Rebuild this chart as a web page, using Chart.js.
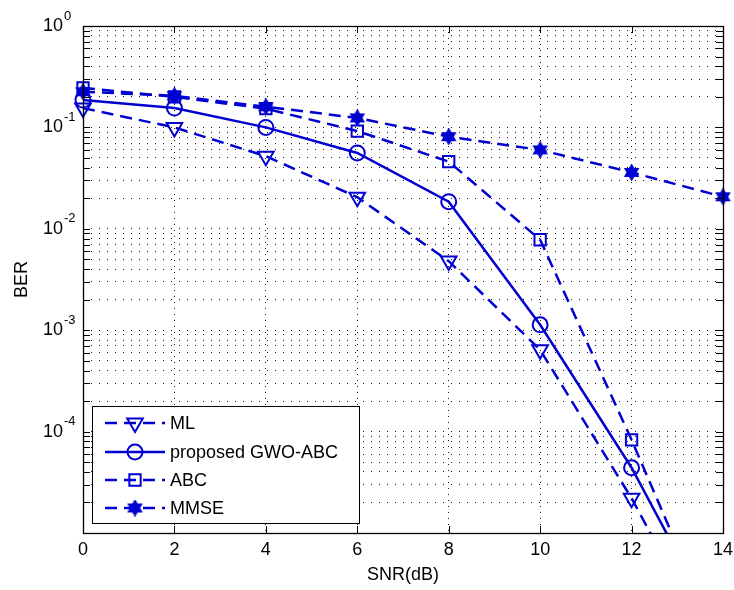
<!DOCTYPE html>
<html>
<head>
<meta charset="utf-8">
<script src="https://cdn.jsdelivr.net/npm/chart.js@4.4.0/dist/chart.umd.min.js"></script>
<style>
  html, body { margin: 0; padding: 0; background: #fff; }
  canvas { display: block; }
</style>
</head>
<body>
<canvas id="ber" width="734" height="590"></canvas>
<script>
/* BER vs SNR, MATLAB-style log plot */

var snrDb = [0, 2, 4, 6, 8, 10, 12, 14];
var berML = [0.155, 0.1, 0.052, 0.0205, 0.0048, 0.00064, 0.000022, 0.00000047];
var berGWO = [0.186, 0.155, 0.1, 0.056, 0.0185, 0.00113, 0.000044, 0.0000009];
var berABC = [0.245, 0.2, 0.153, 0.092, 0.046, 0.0078, 0.000083, 0.00000066];
var berMMSE = [0.225, 0.205, 0.16, 0.124, 0.081, 0.06, 0.036, 0.0207];
var seriesNames = ['ML', 'proposed GWO-ABC', 'ABC', 'MMSE'];
var xTickValues = [0, 2, 4, 6, 8, 10, 12, 14];
var yLabelExps = [-4, -3, -2, -1, 0];

var BLUE = '#0000d0';
var FONT = "'Liberation Sans', Arial, Helvetica, sans-serif";
var DASH = [12, 7];

// filled hexagram marker for MMSE
function hexagram(size) {
  var c = document.createElement('canvas');
  c.width = size; c.height = size;
  var g = c.getContext('2d');
  var cx = size / 2, cy = size / 2, R = size / 2 - 1, r = R * 0.58;
  g.beginPath();
  for (var i = 0; i < 12; i++) {
    var a = -Math.PI / 2 + i * Math.PI / 6;
    var rr = i % 2 === 0 ? R : r;
    g.lineTo(cx + rr * Math.cos(a), cy + rr * Math.sin(a));
  }
  g.closePath();
  g.fillStyle = BLUE; g.strokeStyle = BLUE; g.lineWidth = 1.5;
  g.fill(); g.stroke();
  return c;
}
var starImg = hexagram(17);

function yTickList() {
  var out = [];
  for (var d = -5; d <= -1; d++) {
    for (var m = 1; m <= 9; m++) out.push({ value: Number((m * Math.pow(10, d)).toPrecision(3)), major: m === 1 });
  }
  out.push({ value: 1, major: true });
  return out;
}

function series(label, data, style, radius, dash, rot) {
  return {
    label: label, data: data,
    borderColor: BLUE, borderWidth: 2.5, borderDash: dash,
    pointStyle: style, pointRadius: radius, pointRotation: rot || 0,
    pointBorderColor: BLUE, pointBorderWidth: 2,
    pointBackgroundColor: 'rgba(0,0,0,0)',
    tension: 0, fill: false,
    clip: { left: 20, top: 20, right: 20, bottom: 0 }
  };
}

var matlabAxes = {
  id: 'matlabAxes',
  afterDatasetsDraw: function (chart) {
    var ctx = chart.ctx, a = chart.chartArea;
    var xs = chart.scales.x, ys = chart.scales.y;
    ctx.save();
    ctx.strokeStyle = '#000';
    ctx.lineWidth = 1;
    ctx.beginPath();
    ys.ticks.forEach(function (t) {
      var py = Math.round(ys.getPixelForValue(t.value)) + 0.5;
      ctx.moveTo(a.left, py); ctx.lineTo(a.left + 7, py);
      ctx.moveTo(a.right, py); ctx.lineTo(a.right - 7, py);
    });
    xs.ticks.forEach(function (t) {
      var px = Math.round(xs.getPixelForValue(t.value)) + 0.5;
      ctx.moveTo(px, a.bottom); ctx.lineTo(px, a.bottom - 7);
      ctx.moveTo(px, a.top); ctx.lineTo(px, a.top + 7);
    });
    ctx.stroke();
    ctx.lineWidth = 1.3;
    ctx.strokeRect(Math.round(a.left) + 0.5, Math.round(a.top) + 0.5,
      Math.round(a.right - a.left), Math.round(a.bottom - a.top));
    ctx.restore();
  },
  afterDraw: function (chart) {
    var ctx = chart.ctx, ys = chart.scales.y;
    ctx.save();
    ctx.fillStyle = '#000';
    // y labels 10^n
    yLabelExps.forEach(function (e) {
      var py = ys.getPixelForValue(Math.pow(10, e));
      ctx.font = '18px ' + FONT;
      ctx.textAlign = 'right'; ctx.textBaseline = 'middle';
      ctx.fillText('10', 63, py);
      ctx.font = '13px ' + FONT;
      ctx.textAlign = 'left';
      ctx.fillText(String(e), 64, py - 10);
    });
    // legend
    var bx = 92, by = 406, bw = 267, bh = 117;
    ctx.fillStyle = '#fff';
    ctx.fillRect(bx, by, bw, bh);
    ctx.strokeStyle = '#000'; ctx.lineWidth = 1;
    ctx.strokeRect(bx + 0.5, by + 0.5, bw, bh);
    var rows = [423, 452, 480, 508];
    chart.data.datasets.forEach(function (ds, i) {
      var y = rows[i];
      ctx.save();
      ctx.strokeStyle = ds.borderColor; ctx.lineWidth = ds.borderWidth;
      ctx.setLineDash(ds.borderDash || []);
      ctx.beginPath(); ctx.moveTo(105, y); ctx.lineTo(165, y); ctx.stroke();
      ctx.setLineDash([]);
      ctx.strokeStyle = ds.pointBorderColor; ctx.fillStyle = 'rgba(0,0,0,0)';
      ctx.lineWidth = ds.pointBorderWidth;
      Chart.helpers.drawPoint(ctx, {
        pointStyle: ds.pointStyle, radius: ds.pointRadius,
        rotation: ds.pointRotation, borderWidth: ds.pointBorderWidth
      }, 135, y);
      ctx.restore();
      ctx.fillStyle = '#000';
      ctx.font = '18px ' + FONT;
      ctx.textAlign = 'left'; ctx.textBaseline = 'middle';
      ctx.fillText(ds.label, 170, y + 1);
    });
    ctx.restore();
  }
};

new Chart(document.getElementById('ber'), {
  type: 'line',
  data: {
    labels: snrDb,
    datasets: [
      series(seriesNames[0], snrDb.map(function (x, i) { return { x: x, y: berML[i] }; }), 'triangle', 9, DASH, 180),
      series(seriesNames[1], snrDb.map(function (x, i) { return { x: x, y: berGWO[i] }; }), 'circle', 7.5, []),
      series(seriesNames[2], snrDb.map(function (x, i) { return { x: x, y: berABC[i] }; }), 'rect', 8, DASH),
      series(seriesNames[3], snrDb.map(function (x, i) { return { x: x, y: berMMSE[i] }; }), starImg, 8, DASH)
    ]
  },
  options: {
    responsive: false, animation: false, devicePixelRatio: 1,
    layout: { padding: { top: 26, right: 6, left: 0, bottom: 0 } },
    plugins: { legend: { display: false }, tooltip: { enabled: false } },
    scales: {
      x: {
        type: 'linear', min: 0, max: 14,
        afterBuildTicks: function (s) { s.ticks = xTickValues.map(function (v) { return { value: v }; }); },
        afterFit: function (s) { s.height = 57; s.paddingLeft = 0; s.paddingRight = 0; },
        grid: { color: 'rgba(0,0,0,0.9)', lineWidth: 1, drawTicks: false },
        border: { display: false, dash: [1, 5] },
        ticks: { color: '#000', font: { family: FONT, size: 18 }, padding: 6, autoSkip: false, maxRotation: 0 },
        title: { display: true, text: 'SNR(dB)', color: '#000', font: { family: FONT, size: 18 }, padding: { top: 0, bottom: 4 } }
      },
      y: {
        type: 'logarithmic', min: 0.00001, max: 1,
        afterBuildTicks: function (s) { s.ticks = yTickList(); },
        afterFit: function (s) { s.width = 83; },
        grid: { color: 'rgba(0,0,0,0.9)', lineWidth: 1, drawTicks: false },
        border: { display: false, dash: [1, 7] },
        ticks: { display: false, autoSkip: false },
        title: { display: true, text: 'BER', color: '#000', font: { family: FONT, size: 18 }, padding: { top: 11, bottom: 0 } }
      }
    }
  },
  plugins: [matlabAxes]
});
</script>
</body>
</html>
